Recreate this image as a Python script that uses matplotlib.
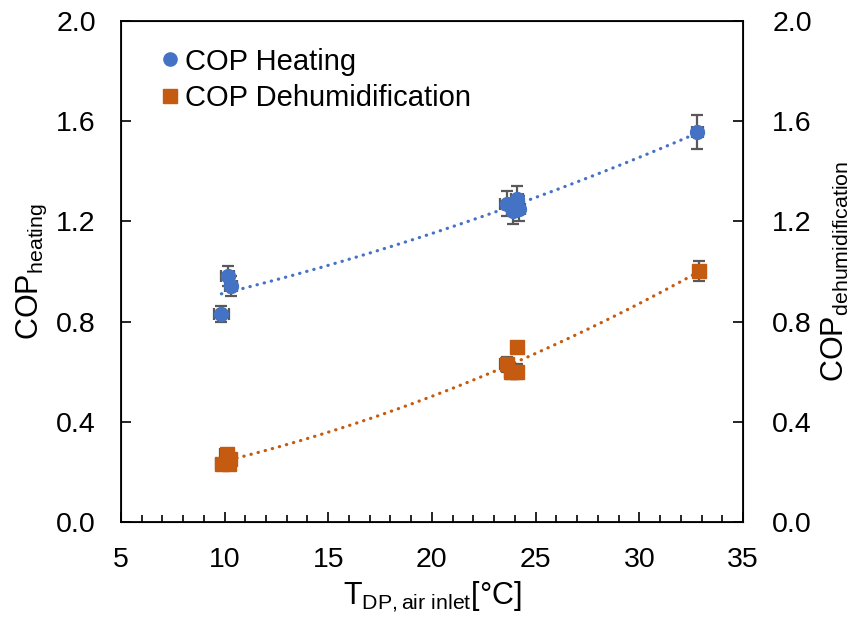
import numpy as np
import matplotlib
matplotlib.use("Agg")
import matplotlib.pyplot as plt
from matplotlib.ticker import MultipleLocator
from matplotlib.lines import Line2D

plt.rcParams['font.family'] = ['Liberation Sans', 'DejaVu Sans']
plt.rcParams['mathtext.fontset'] = 'custom'
plt.rcParams['mathtext.rm'] = 'Liberation Sans'
plt.rcParams['mathtext.it'] = 'Liberation Sans'

# 数据
t_heat = [9.85, 10.15, 10.3, 23.6, 23.9, 24.1, 24.2, 32.8]
cop_heat = [0.83, 0.98, 0.94, 1.27, 1.24, 1.29, 1.25, 1.555]
xerr_heat = [0.35, 0.3, 0.3, 0.3, 0.3, 0.3, 0.3, 0.27]
yerr_heat = [0.03, 0.04, 0.04, 0.05, 0.05, 0.05, 0.05, 0.068]

t_dehum = [9.9, 10.1, 10.2, 10.25, 23.6, 23.8, 24.1, 24.1, 32.9]
cop_dehum = [0.23, 0.27, 0.23, 0.25, 0.63, 0.60, 0.60, 0.70, 1.00]
xerr_dehum = [0.3, 0.3, 0.3, 0.3, 0.3, 0.3, 0.3, 0.25, 0.25]
yerr_dehum = [0.02, 0.02, 0.02, 0.02, 0.03, 0.03, 0.03, 0.02, 0.04]

blue = '#4472C4'
orange = '#C55A11'
grey = '#595959'

fig = plt.figure(figsize=(8.57, 6.19), dpi=100)
ax = fig.add_axes([0.141, 0.157, 0.726, 0.809])

# 误差棒 + 散点
ax.errorbar(t_heat, cop_heat, xerr=xerr_heat, yerr=yerr_heat, fmt='o', color=blue,
            ms=10, ecolor=grey, elinewidth=1.6, capsize=4.3, capthick=1.6, zorder=3)
ax.errorbar(t_dehum, cop_dehum, xerr=xerr_dehum, yerr=yerr_dehum, fmt='s', color=orange,
            ms=10.5, ecolor=grey, elinewidth=1.6, capsize=4.3, capthick=1.6, zorder=3)

# 二次趋势线
for xs, ys, c in [(t_heat, cop_heat, blue), (t_dehum, cop_dehum, orange)]:
    p = np.polyfit(xs, ys, 2)
    xx = np.linspace(min(xs), max(xs), 200)
    ax.plot(xx, np.polyval(p, xx), ls=(0, (0.1, 2.2)), lw=2.3, color=c,
            dash_capstyle='round', zorder=2)

ax.set_xlim(5, 35)
ax.set_ylim(0, 2.0)
ax.xaxis.set_major_locator(MultipleLocator(5))
ax.xaxis.set_minor_locator(MultipleLocator(1))
ax.yaxis.set_major_locator(MultipleLocator(0.4))
ax.yaxis.set_major_formatter(plt.FormatStrFormatter('%.1f'))
ax.tick_params(which='both', direction='in', labelsize=20.5, width=1.2, pad=18)
ax.tick_params(which='major', length=7)
ax.tick_params(which='minor', length=5)
ax.tick_params(axis='y', which='minor', left=False)
for s in ax.spines.values():
    s.set_linewidth(1.3)

ax.set_xlabel(r'T$_{\mathrm{DP,air\ inlet}}$[°C]', fontsize=22, labelpad=5)
ax.set_ylabel(r'COP$_{\mathrm{heating}}$', fontsize=22, labelpad=5)

ax2 = ax.twinx()
ax2.set_ylim(0, 2.0)
ax2.yaxis.set_major_locator(MultipleLocator(0.4))
ax2.yaxis.set_major_formatter(plt.FormatStrFormatter('%.1f'))
ax2.tick_params(direction='in', labelsize=20.5, length=7, width=1.2, pad=21)
ax2.set_ylabel(r'COP$_{\mathrm{dehumidification}}$', fontsize=22, labelpad=6)

handles = [Line2D([], [], ls='none', marker='o', color=blue, ms=9.5, label='COP Heating'),
           Line2D([], [], ls='none', marker='s', color=orange, ms=9.5, label='COP Dehumidification')]
ax.legend(handles=handles, loc='upper left', bbox_to_anchor=(0.0555, 0.947), frameon=False,
          fontsize=21, handlelength=1.0, handletextpad=0.0, labelspacing=0.3,
          borderaxespad=0, borderpad=0)

fig.savefig('out.png', dpi=100)
